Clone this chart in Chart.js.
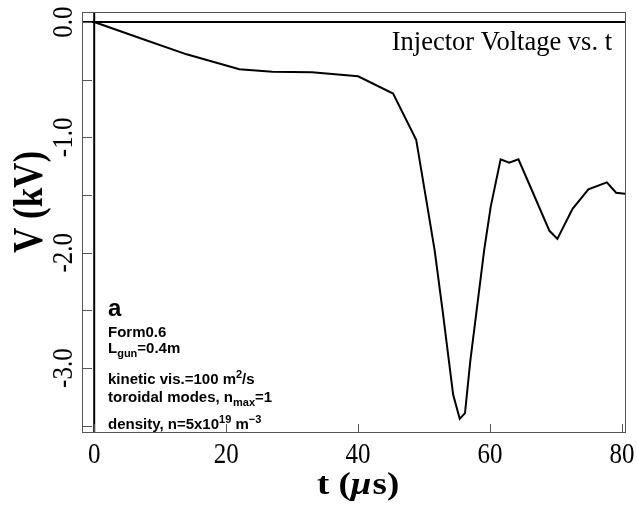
<!DOCTYPE html>
<html>
<head>
<meta charset="utf-8">
<script src="https://cdn.jsdelivr.net/npm/chart.js@4"></script>
<style>
    html, body { margin: 0; padding: 0; background: #fff; }
    #wrap { width: 637px; height: 512px; }
</style>
</head>
<body>
<div id="wrap"><canvas id="voltageChart"></canvas></div>
<script>
// time in microseconds and injector voltage in kV
const timeUs = [0, 7, 14, 22, 27, 33, 40, 45.3, 48.8, 50.5, 51.6, 52.8, 54.4, 55.4, 56.2, 57.0,
    59.1, 60.1, 61.6, 62.9, 64.3, 66.5, 69.0, 70.2, 72.5, 74.9, 77.7, 79.1, 80.6];
const voltageKV = [0, -0.14, -0.28, -0.41, -0.43, -0.435, -0.47, -0.62, -1.02, -1.60, -1.98, -2.50, -3.23, -3.44, -3.39, -2.94,
    -1.98, -1.60, -1.19, -1.22, -1.19, -1.48, -1.81, -1.88, -1.62, -1.45, -1.39, -1.48, -1.49];

const xTicks = [0, 20, 40, 60, 80];
const xTickLabels = ['0', '20', '40', '60', '80'];
const yTicks = [0, -0.5, -1, -1.5, -2, -2.5, -3, -3.5];
const yTickLabels = ['0.0', '-1.0', '-2.0', '-3.0'];
const yLabelValues = [0, -1, -2, -3];

const SERIF = '"Liberation Serif", "Times New Roman", serif';
const SANS = '"Liberation Sans", Arial, sans-serif';

// draw a line of text made of pieces with sub/superscripts
function richText(ctx, x, y, parts) {
    parts.forEach(p => {
        ctx.font = 'bold ' + (p.size || 15) + 'px ' + SANS;
        ctx.fillText(p.t, x, y + (p.dy || 0));
        x += ctx.measureText(p.t).width;
    });
}

const framePlugin = {
    id: 'framePlugin',
    beforeDatasetsDraw(chart) {
        const ctx = chart.ctx;
        const a = chart.chartArea;
        const xs = chart.scales.x, ys = chart.scales.y;
        ctx.save();
        ctx.strokeStyle = '#000';
        ctx.lineWidth = 2;
        ctx.beginPath();
        const y0 = ys.getPixelForValue(0);
        ctx.moveTo(a.left, y0); ctx.lineTo(a.right, y0);
        const x0 = xs.getPixelForValue(0);
        ctx.moveTo(x0, a.top); ctx.lineTo(x0, a.bottom);
        ctx.stroke();
        ctx.restore();
    },
    afterDraw(chart) {
        const ctx = chart.ctx;
        const a = chart.chartArea;
        const xs = chart.scales.x, ys = chart.scales.y;
        ctx.save();
        // frame
        ctx.strokeStyle = '#555';
        ctx.lineWidth = 1;
        ctx.strokeRect(Math.round(a.left) + 0.5, Math.round(a.top) + 0.5,
            Math.round(a.right - a.left), Math.round(a.bottom - a.top));
        ctx.beginPath();
        yTicks.forEach(v => {
            const py = Math.round(ys.getPixelForValue(v)) + 0.5;
            ctx.moveTo(a.left, py); ctx.lineTo(a.left + 10, py);
        });
        xTicks.forEach(v => {
            const px = Math.round(xs.getPixelForValue(v)) + 0.5;
            ctx.moveTo(px, a.bottom); ctx.lineTo(px, a.bottom - 8);
        });
        ctx.stroke();

        // tick labels
        ctx.fillStyle = '#000';
        ctx.font = '25px ' + SERIF;
        ctx.textAlign = 'center';
        ctx.textBaseline = 'alphabetic';
        xTicks.forEach((v, i) => {
            ctx.save();
            ctx.translate(xs.getPixelForValue(v), 463);
            ctx.scale(1, 1.22);
            ctx.fillText(xTickLabels[i], 0, 0);
            ctx.restore();
        });
        yLabelValues.forEach((v, i) => {
            ctx.save();
            ctx.translate(72, ys.getPixelForValue(v));
            ctx.rotate(-Math.PI / 2);
            ctx.scale(1, 1.15);
            ctx.fillText(yTickLabels[i], 0, 0);
            ctx.restore();
        });

        // axis titles
        ctx.save();
        ctx.font = 'bold 35px ' + SERIF;
        ctx.translate(42, 202);
        ctx.rotate(-Math.PI / 2);
        ctx.scale(1, 1.2);
        ctx.fillText('V (kV)', 0, 0);
        ctx.restore();

        ctx.save();
        ctx.textAlign = 'left';
        ctx.translate(317, 494);
        ctx.scale(1.12, 0.95);
        ctx.font = 'bold 33px ' + SERIF;
        let tx = 0;
        ctx.fillText('t (', tx, 0);
        tx += ctx.measureText('t (').width;
        ctx.font = 'bold italic 33px ' + SERIF;
        ctx.fillText('\u03bc', tx, 0);
        tx += ctx.measureText('\u03bc').width + 1;
        ctx.font = 'bold 33px ' + SERIF;
        ctx.fillText('s)', tx, 0);
        ctx.restore();

        // title inside plot
        ctx.textAlign = 'right';
        ctx.font = '26.5px ' + SERIF;
        ctx.fillText('Injector Voltage vs. t', 612, 50);

        // run parameters, clipped by the frame
        ctx.save();
        ctx.beginPath();
        ctx.rect(a.left, a.top, a.right - a.left, a.bottom - a.top);
        ctx.clip();
        ctx.textAlign = 'left';
        richText(ctx, 108, 316, [{t: 'a', size: 24}]);
        richText(ctx, 108, 337, [{t: 'Form0.6'}]);
        richText(ctx, 108, 353, [{t: 'L'}, {t: 'gun', size: 11, dy: 4}, {t: '=0.4m'}]);
        richText(ctx, 108, 384, [{t: 'kinetic vis.=100 m'}, {t: '2', size: 11, dy: -6}, {t: '/s'}]);
        richText(ctx, 108, 401.5, [{t: 'toroidal modes, n'}, {t: 'max', size: 11, dy: 4}, {t: '=1'}]);
        richText(ctx, 108, 428.5, [{t: 'density, n=5x10'}, {t: '19', size: 11, dy: -6}, {t: ' m'}, {t: '\u22123', size: 11, dy: -6}]);
        ctx.restore();
        ctx.restore();
    }
};

new Chart(document.getElementById('voltageChart'), {
    type: 'line',
    data: {
        datasets: [{
            label: 'Injector Voltage',
            data: timeUs.map((t, i) => ({x: t, y: voltageKV[i]})),
            borderColor: '#000',
            borderWidth: 2,
            pointRadius: 0,
            fill: false,
            tension: 0
        }]
    },
    options: {
        responsive: true,
        maintainAspectRatio: false,
        animation: false,
        layout: {
            padding: {left: 82, top: 12, right: 12, bottom: 80}
        },
        plugins: {
            legend: {display: false},
            tooltip: {enabled: false}
        },
        scales: {
            x: {
                type: 'linear',
                display: false,
                min: -1.85,
                max: 80.45
            },
            y: {
                type: 'linear',
                display: false,
                min: -3.554,
                max: 0.087
            }
        }
    },
    plugins: [framePlugin]
});
</script>
</body>
</html>
